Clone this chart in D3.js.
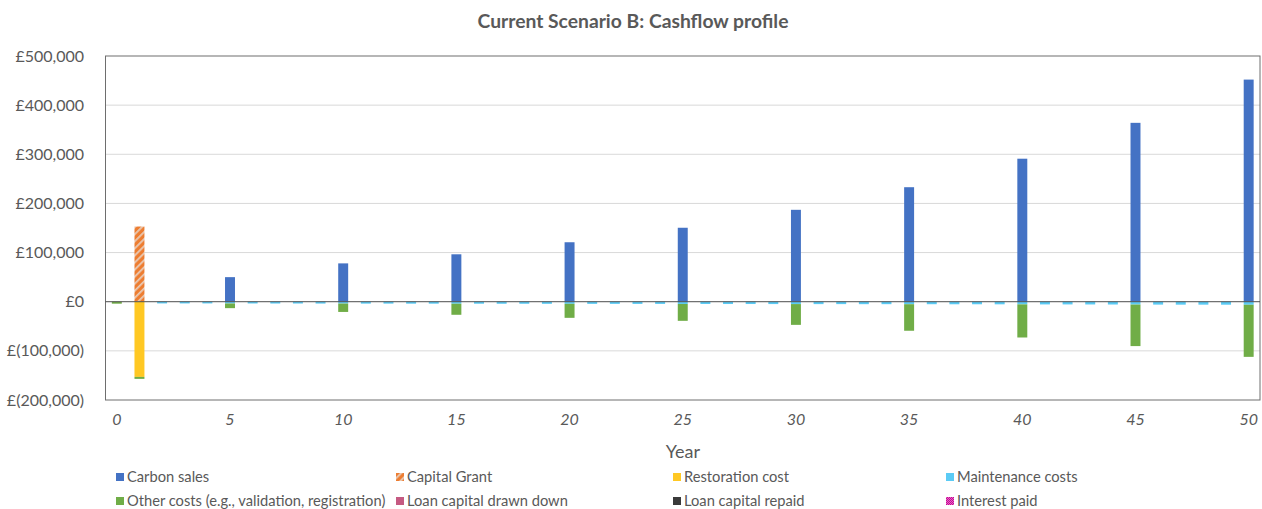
<!DOCTYPE html>
<html><head><meta charset="utf-8">
<script src="https://cdn.jsdelivr.net/npm/d3@7"></script>
<style>
html,body{margin:0;padding:0;background:#fff;}
svg{display:block;font-family:Lato,"Open Sans",sans-serif;}
</style></head>
<body><svg id="chart" width="1262" height="509"></svg>
<script>
const years = d3.range(0, 51);
const seriesNames = ["Carbon sales","Capital Grant","Restoration cost","Maintenance costs","Other costs (e.g., validation, registration)","Loan capital drawn down","Loan capital repaid","Interest paid"];
const carbonSales = [0,0,0,0,0,50000,0,0,0,0,78000,0,0,0,0,96500,0,0,0,0,121000,0,0,0,0,150500,0,0,0,0,187000,0,0,0,0,233000,0,0,0,0,291000,0,0,0,0,364000,0,0,0,0,452000];
const capitalGrant = [0,153000,0,0,0,0,0,0,0,0,0,0,0,0,0,0,0,0,0,0,0,0,0,0,0,0,0,0,0,0,0,0,0,0,0,0,0,0,0,0,0,0,0,0,0,0,0,0,0,0,0];
const restorationCost = [0,-153000,0,0,0,0,0,0,0,0,0,0,0,0,0,0,0,0,0,0,0,0,0,0,0,0,0,0,0,0,0,0,0,0,0,0,0,0,0,0,0,0,0,0,0,0,0,0,0,0,0];
const maintenanceCosts = [0,0,-3500,-3500,-3500,-3600,-3600,-3700,-3700,-3800,-3800,-3900,-3900,-4000,-4000,-4100,-4100,-4200,-4200,-4300,-4300,-4400,-4400,-4500,-4500,-4600,-4600,-4700,-4700,-4800,-4800,-4900,-4900,-5000,-5000,-5100,-5100,-5200,-5200,-5300,-5400,-5500,-5500,-5600,-5700,-5800,-5900,-6000,-6000,-6100,-6200];
const otherCosts = [-4000,-4000,0,0,0,-9500,0,0,0,0,-17000,0,0,0,0,-22500,0,0,0,0,-28500,0,0,0,0,-34300,0,0,0,0,-42300,0,0,0,0,-54000,0,0,0,0,-67400,0,0,0,0,-84500,0,0,0,0,-106000];
const loanDrawn = years.map(() => 0);
const loanRepaid = years.map(() => 0);
const interestPaid = years.map(() => 0);
const yTicks = [-200000,-100000,0,100000,200000,300000,400000,500000];
const xTickLabels = [0,5,10,15,20,25,30,35,40,45,50];

const seriesData = [carbonSales, capitalGrant, restorationCost, maintenanceCosts, otherCosts, loanDrawn, loanRepaid, interestPaid];
const colors = ["#4472C4","url(#hatch)","#FFC823","#5BCBF5","#70AD47","#C55A82","#3A3A3A","url(#check)"];

const table = years.map((yr, i) => {
  const o = {year: yr};
  seriesNames.forEach((n, k) => o[n] = seriesData[k][i]);
  return o;
});

const svg = d3.select("#chart");
const defs = svg.append("defs");
const hp = defs.append("pattern").attr("id","hatch").attr("patternUnits","userSpaceOnUse")
  .attr("width",5).attr("height",5).attr("patternTransform","rotate(45)");
hp.append("rect").attr("width",5).attr("height",5).attr("fill","#ED7D31");
hp.append("rect").attr("width",1.8).attr("height",5).attr("fill","#E8C9B4");
const cp = defs.append("pattern").attr("id","check").attr("patternUnits","userSpaceOnUse")
  .attr("width",2).attr("height",2);
cp.append("rect").attr("width",2).attr("height",2).attr("fill","#CC0099");
cp.append("rect").attr("width",1).attr("height",1).attr("fill","#E070C0");
cp.append("rect").attr("x",1).attr("y",1).attr("width",1).attr("height",1).attr("fill","#E070C0");

const L = 105.5, R = 1260, T = 56, B = 400;
const x = d3.scaleBand().domain(years).range([L, R]).paddingInner(0.56).paddingOuter(0.28);
const y = d3.scaleLinear().domain([-200000, 500000]).range([B, T]);

const textCol = "#595959";

// gridlines
svg.append("g").selectAll("line").data(yTicks.filter(v => v !== 0 && v !== 500000 && v !== -200000)).join("line")
  .attr("x1", L).attr("x2", R).attr("y1", d => y(d)).attr("y2", d => y(d))
  .attr("stroke", "#D9D9D9").attr("stroke-width", 1);

// stacked bars
const stack = d3.stack().keys(seriesNames).offset(d3.stackOffsetDiverging)(table);
svg.append("g").selectAll("g").data(stack).join("g")
  .attr("fill", (d, i) => colors[i])
  .selectAll("rect").data(d => d.filter(p => p[1] - p[0] !== 0)).join("rect")
  .attr("x", d => x(d.data.year))
  .attr("width", x.bandwidth())
  .attr("y", d => y(Math.max(d[0], d[1])))
  .attr("height", d => Math.abs(y(d[0]) - y(d[1])));

// box
svg.append("rect").attr("x", L).attr("y", T).attr("width", R - L).attr("height", B - T)
  .attr("fill", "none").attr("stroke", "#6E6E6E").attr("stroke-width", 1);
// zero line
svg.append("line").attr("x1", L).attr("x2", R).attr("y1", y(0)).attr("y2", y(0))
  .attr("stroke", "#4D4D4D").attr("stroke-width", 1);

// y axis labels
const fmt = v => v < 0 ? "£(" + d3.format(",")(-v) + ")" : "£" + d3.format(",")(v);
const yAxis = d3.axisLeft(y).tickValues(yTicks).tickFormat(fmt).tickSize(0).tickPadding(21.5);
const ya = svg.append("g").attr("transform", `translate(${L},0)`).call(yAxis);
ya.select(".domain").remove();
ya.selectAll("text").attr("fill", textCol).style("font-size", "16px").style("font-family", "Lato");

// x axis labels
const xAxis = d3.axisBottom(x).tickValues(xTickLabels).tickSize(0).tickPadding(14);
const xa = svg.append("g").attr("transform", `translate(0,${B})`).call(xAxis);
xa.select(".domain").remove();
xa.selectAll("text").attr("fill", textCol).style("font-size", "16px").style("font-style", "italic").style("font-family", "Lato");

// title
svg.append("text").attr("x", 633).attr("y", 28).attr("text-anchor", "middle")
  .attr("fill", textCol).style("font-size", "19.3px").style("font-weight", "bold").text("Current Scenario B: Cashflow profile");
// x title
svg.append("text").attr("x", 683).attr("y", 458).attr("text-anchor", "middle")
  .attr("fill", textCol).style("font-size", "18px").text("Year");

// legend
const legX = [116, 396, 673, 946];
const legY = [477, 501];
const lg = svg.append("g").selectAll("g").data(seriesNames).join("g")
  .attr("transform", (d, i) => `translate(${legX[i % 4]},${legY[Math.floor(i / 4)]})`);
lg.append("rect").attr("x", 0).attr("y", -4).attr("width", 8).attr("height", 8).attr("fill", (d, i) => colors[i]);
lg.append("text").attr("x", 11).attr("y", 5).attr("fill", textCol).style("font-size", "14.7px").text(d => d);
</script></body></html>
